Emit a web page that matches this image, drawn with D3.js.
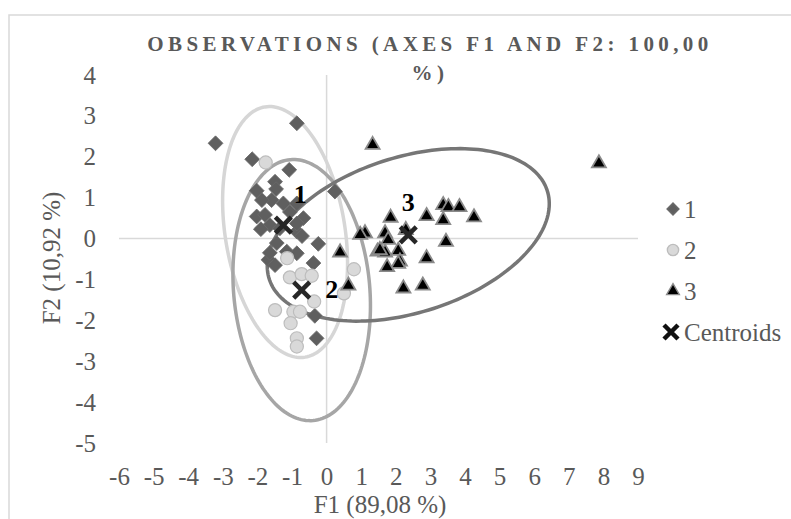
<!DOCTYPE html>
<html>
<head>
<meta charset="utf-8">
<script src="https://d3js.org/d3.v7.min.js"></script>
<style>
  body { margin: 0; background: #fff; }
  svg text { font-family: "Liberation Serif", "Times New Roman", serif; fill: #595959; }
</style>
</head>
<body>
<svg id="chart"></svg>
<script>
// observations per cluster (F1, F2)
var c1x = [-3.21, -0.86, -2.15, -1.08, 0.24, -1.49, -2.02, -1.46, -1.59, -1.25, -0.86, -0.67, -2.02, -1.78,
           -1.64, -1.35, -0.86, -0.86, -1.44, -0.24, -1.68, -1.49, -1.15, -0.86, -0.38, -1.64, -0.34, -0.29,
           -1.87, -1.06, -1.90, -0.71];
var c1y = [2.33, 2.82, 1.94, 1.68, 1.15, 1.39, 1.17, 1.21, 0.94, 0.86, 0.86, 0.50, 0.54, 0.58,
           0.33, 0.25, 0.17, 0.37, -0.11, -0.13, -0.52, -0.65, -0.32, -0.36, -0.60, -0.35, -1.89, -2.44,
           0.94, 0.65, 0.23, 0.06];
var c2x = [-1.76, -1.14, -1.06, -0.72, -0.43, -0.36, -1.49, -0.96, -0.77, -1.04, -0.86, -0.86, 0.79, 0.50];
var c2y = [1.86, -0.48, -0.95, -0.87, -0.91, -1.54, -1.75, -1.79, -1.79, -2.07, -2.44, -2.64, -0.75, -1.34];
var c3x = [1.33, 1.85, 1.11, 0.97, 1.69, 1.78, 2.89, 3.37, 3.52, 3.84, 4.26, 3.37, 3.45, 2.89,
           0.39, 1.47, 1.69, 2.07, 2.12, 2.07, 1.75, 2.22, 2.78, 0.63, 1.54, 2.29, 7.87];
var c3y = [2.29, 0.51, 0.13, 0.09, 0.13, -0.03, 0.55, 0.82, 0.77, 0.77, 0.52, 0.45, -0.08, -0.48,
           -0.34, -0.32, -0.34, -0.30, -0.56, -0.62, -0.70, -1.22, -1.15, -1.15, -0.28, 0.21, 1.84];

var centroidX = [-1.25, -0.72, 2.36];
var centroidY = [0.33, -1.26, 0.09];
var clusterNames = ["1", "2", "3"];

// confidence ellipses: centre + two half-axis vectors (F1/F2 units)
var ellCx = [-1.20, -0.72, 2.36];
var ellCy = [0.16, -1.26, 0.09];
var ellAx = [-0.58, -0.33, 4.01];
var ellAy = [3.06, 3.19, 1.10];
var ellBx = [1.71, 1.96, 0.73];
var ellBy = [0.23, 0.15, -1.80];

var xTicks = [-6, -5, -4, -3, -2, -1, 0, 1, 2, 3, 4, 5, 6, 7, 8, 9];
var yTicks = [-5, -4, -3, -2, -1, 0, 1, 2, 3, 4];

var width = 791, height = 519;
var svg = d3.select("#chart").attr("width", width).attr("height", height);

var x = d3.scaleLinear().domain([-6, 9]).range([119, 638]);
var y = d3.scaleLinear().domain([-5, 4]).range([443, 75]);

// outer chart border (right and bottom fall outside the picture)
svg.append("rect")
    .attr("x", 9).attr("y", 15)
    .attr("width", 820).attr("height", 540)
    .attr("fill", "none")
    .attr("stroke", "#d9d9d9")
    .attr("stroke-width", 1.5);

// title
var title = svg.append("text")
    .attr("text-anchor", "middle")
    .style("font-weight", "bold")
    .style("font-size", "21px")
    .style("letter-spacing", "4.4px");
title.append("tspan").attr("x", 430).attr("y", 51).text("OBSERVATIONS (AXES F1 AND F2: 100,00");
title.append("tspan").attr("x", 430).attr("y", 80).text("%)");

// zero lines
svg.append("line")
    .attr("x1", x(-6)).attr("x2", x(9))
    .attr("y1", y(0)).attr("y2", y(0))
    .attr("stroke", "#d9d9d9").attr("stroke-width", 1.5);
svg.append("line")
    .attr("x1", x(0)).attr("x2", x(0))
    .attr("y1", y(4)).attr("y2", y(-5))
    .attr("stroke", "#d9d9d9").attr("stroke-width", 1.5);

// axes: labels only
var fmt = function(d) { return String(d); };
var xAxis = svg.append("g")
    .attr("transform", "translate(0," + 485 + ")")
    .call(d3.axisBottom(x).tickValues(xTicks).tickSize(0).tickPadding(0).tickFormat(fmt));
var yAxis = svg.append("g")
    .attr("transform", "translate(" + 96 + ",0)")
    .call(d3.axisLeft(y).tickValues(yTicks).tickSize(0).tickPadding(0).tickFormat(fmt));
[xAxis, yAxis].forEach(function(a) {
  a.select(".domain").remove();
  a.selectAll("text")
    .style("font-family", '"Liberation Serif", "Times New Roman", serif')
    .style("font-size", "25px")
    .attr("fill", "#595959");
});
xAxis.selectAll("text").attr("dy", 0);

svg.append("text")
    .attr("x", 380).attr("y", 513)
    .attr("text-anchor", "middle")
    .style("font-size", "25px")
    .text("F1 (89,08 %)");
svg.append("text")
    .attr("transform", "translate(60,258) rotate(-90)")
    .attr("text-anchor", "middle")
    .style("font-size", "25px")
    .text("F2 (10,92 %)");

// ellipses
var ellColors = ["#d6d6d6", "#a6a6a6", "#767676"];
var line = d3.line()
    .x(function(p) { return x(p[0]); })
    .y(function(p) { return y(p[1]); })
    .curve(d3.curveLinearClosed);
var angles = d3.range(0, 2 * Math.PI, Math.PI / 90);
for (var k = 0; k < 3; k++) {
  var pts = angles.map(function(t) {
    return [ellCx[k] + Math.cos(t) * ellAx[k] + Math.sin(t) * ellBx[k],
            ellCy[k] + Math.cos(t) * ellAy[k] + Math.sin(t) * ellBy[k]];
  });
  svg.append("path")
      .attr("d", line(pts))
      .attr("fill", "none")
      .attr("stroke", ellColors[k])
      .attr("stroke-width", 3.5);
}

var diamond = d3.symbol().type(d3.symbolSquare).size(110);
var circle = d3.symbol().type(d3.symbolCircle).size(135);
var triangle = d3.symbol().type(d3.symbolTriangle).size(85);
var cross = "M-8,-8L8,8M-8,8L8,-8";

function zip(xs, ys) { return xs.map(function(v, i) { return [v, ys[i]]; }); }

svg.append("g").selectAll("path")
    .data(zip(c1x, c1y))
    .enter().append("path")
      .attr("d", diamond)
      .attr("transform", function(d) { return "translate(" + x(d[0]) + "," + y(d[1]) + ") rotate(45)"; })
      .attr("fill", "#5f5f5f")
      .attr("stroke", "#6a6a6a")
      .attr("stroke-width", 0.8);

svg.append("g").selectAll("path")
    .data(zip(c2x, c2y))
    .enter().append("path")
      .attr("d", circle)
      .attr("transform", function(d) { return "translate(" + x(d[0]) + "," + y(d[1]) + ")"; })
      .attr("fill", "#d9d9d9")
      .attr("stroke", "#bdbdbd")
      .attr("stroke-width", 1.2);

svg.append("g").selectAll("path")
    .data(zip(c3x, c3y))
    .enter().append("path")
      .attr("d", triangle)
      .attr("transform", function(d) { return "translate(" + x(d[0]) + "," + y(d[1]) + ")"; })
      .attr("fill", "#000")
      .attr("stroke", "#8a8a8a")
      .attr("stroke-width", 1.8);

svg.append("g").selectAll("path")
    .data(zip(centroidX, centroidY))
    .enter().append("path")
      .attr("d", cross)
      .attr("transform", function(d) { return "translate(" + x(d[0]) + "," + y(d[1]) + ")"; })
      .attr("fill", "none")
      .attr("stroke", "#262626")
      .attr("stroke-width", 4.5);

// cluster labels beside the centroids
var labelDx = [17, 30, 0], labelDy = [-22, 8, -24];
svg.append("g").selectAll("text")
    .data(clusterNames)
    .enter().append("text")
      .attr("x", function(d, i) { return x(centroidX[i]) + labelDx[i]; })
      .attr("y", function(d, i) { return y(centroidY[i]) + labelDy[i]; })
      .attr("text-anchor", "middle")
      .style("font-size", "26px")
      .style("font-weight", "bold")
      .style("fill", "#000")
      .text(function(d) { return d; });

// legend
var legendItems = ["1", "2", "3", "Centroids"];
var lg = svg.append("g");
var rows = lg.selectAll("g")
    .data(legendItems)
    .enter().append("g")
      .attr("transform", function(d, i) { return "translate(673," + (209 + i * 41) + ")"; });
rows.append("path")
    .attr("d", function(d, i) {
      if (i === 0) return d3.symbol().type(d3.symbolSquare).size(70)();
      if (i === 1) return d3.symbol().type(d3.symbolCircle).size(100)();
      if (i === 2) return d3.symbol().type(d3.symbolTriangle).size(70)();
      return "M-7,-7L7,7M-7,7L7,-7";
    })
    .attr("transform", function(d, i) { return i === 0 ? "rotate(45)" : (i === 3 ? "translate(-2,0)" : null); })
    .attr("fill", function(d, i) { return ["#5f5f5f", "#d9d9d9", "#000", "none"][i]; })
    .attr("stroke", function(d, i) { return ["#6a6a6a", "#bdbdbd", "#8a8a8a", "#111"][i]; })
    .attr("stroke-width", function(d, i) { return i === 3 ? 4.5 : 1.4; });
rows.append("text")
    .attr("x", 11)
    .attr("dy", "0.35em")
    .style("font-size", "25px")
    .text(function(d) { return d; });
</script>
</body>
</html>
